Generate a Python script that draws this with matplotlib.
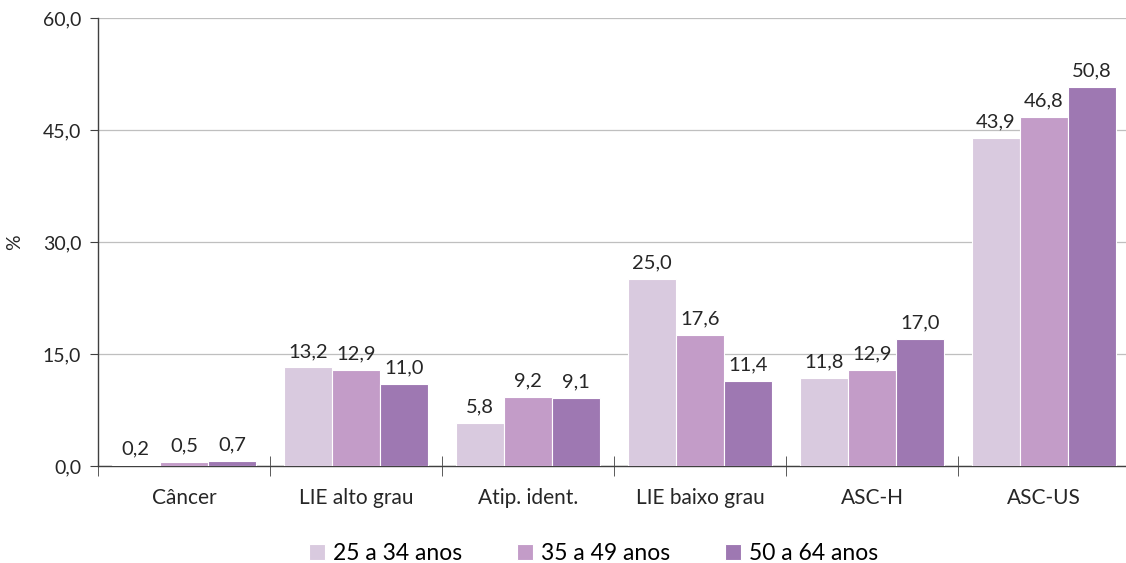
import matplotlib.pyplot as plt
import numpy as np
from matplotlib.ticker import FixedLocator

plt.rcParams['font.family'] = ['Lato', 'DejaVu Sans']

categorias = ['Câncer', 'LIE alto grau', 'Atip. ident.', 'LIE baixo grau', 'ASC-H', 'ASC-US']
series = ['25 a 34 anos', '35 a 49 anos', '50 a 64 anos']
v25 = [0.2, 13.2, 5.8, 25.0, 11.8, 43.9]
v35 = [0.5, 12.9, 9.2, 17.6, 12.9, 46.8]
v50 = [0.7, 11.0, 9.1, 11.4, 17.0, 50.8]
cores = ['#D9CADF', '#C39CC8', '#9E78B2']

fig = plt.figure(figsize=(11.26, 5.63), dpi=100)
ax = fig.add_axes([98/1126, 1-466/563, 1032/1126, (466-18)/563])

x = np.arange(len(categorias))
w = 0.28
for i, (vals, cor, nome) in enumerate(zip([v25, v35, v50], cores, series)):
    pos = x + (i-1)*w
    ax.bar(pos, vals, w, color=cor, edgecolor='white', linewidth=0.8, label=nome, zorder=3)
    for xb, v in zip(pos, vals):
        ax.text(xb, v + 1.0, f'{v:.1f}'.replace('.', ','), ha='center', va='bottom',
                fontsize=14.5, color='#262626')

ax.set_xlim(-0.5, 5.5)
ax.set_ylim(0, 60)
ax.set_yticks([0, 15, 30, 45, 60])
ax.set_yticklabels(['0,0', '15,0', '30,0', '45,0', '60,0'], fontsize=14, color='#262626')
ax.yaxis.grid(True, color='#BFBFBF', linewidth=0.9, zorder=0)
ax.set_ylabel('%', fontsize=14, color='#262626', labelpad=14)

ax.set_xticks(x)
ax.set_xticklabels(categorias, fontsize=15, color='#262626')
ax.tick_params(axis='x', which='major', length=0, pad=16)
ax.xaxis.set_minor_locator(FixedLocator(np.arange(-0.5, 6, 1)))
ax.tick_params(axis='x', which='minor', length=14, color='#404040', direction='inout')
ax.tick_params(axis='y', length=6, color='#404040', pad=6)

for s in ['top', 'right']:
    ax.spines[s].set_visible(False)
for s in ['left', 'bottom']:
    ax.spines[s].set_color('#404040')
    ax.spines[s].set_linewidth(1.0)

ax.legend(loc='upper center', bbox_to_anchor=(0.48, -0.125), ncol=3, frameon=False,
          fontsize=16.5, handlelength=0.7, handleheight=0.7, handletextpad=0.35, columnspacing=2.4)

plt.savefig('out.png', dpi=100)
